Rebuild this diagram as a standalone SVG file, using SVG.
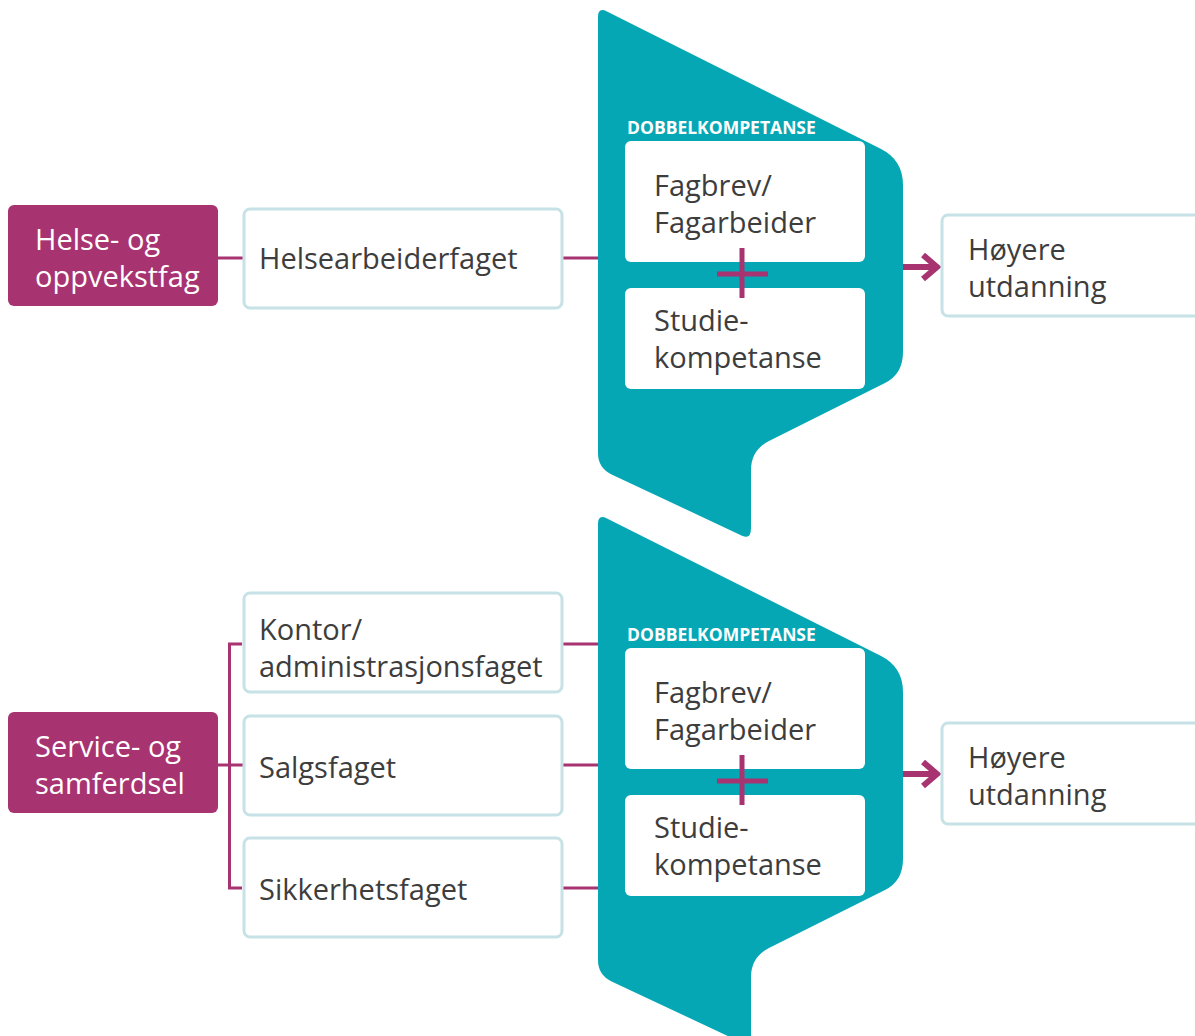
<svg xmlns="http://www.w3.org/2000/svg" width="1195" height="1036" viewBox="0 0 1195 1036">
<defs>
<style>
.teal{fill:#06A7B5}
.cat{fill:#A83371}
.box{fill:#fff;stroke:#C7E2E6;stroke-width:3}
.inner{fill:#fff}
.t{font-family:"Open Sans","Noto Sans",sans-serif;font-size:29px;fill:#3d3d3d}
.tw{font-family:"Open Sans","Noto Sans",sans-serif;font-size:29px;fill:#fff}
.hd{font-family:"Open Sans","Noto Sans",sans-serif;font-size:17.5px;font-weight:bold;fill:#fff}
.ln{stroke:#A83371;stroke-width:3;fill:none}
.plus{stroke:#A83371;stroke-width:5;fill:none}
.arr{stroke:#A83371;stroke-width:6;fill:none}
</style>
<path id="funnel" d="M598,17 Q598,7 607,11.5 L880.6,148.8 Q903,160 903,185 L903,352 Q903,374 885,383 L769,441 Q751,450 751,470 L751,528 Q751,540 742,535.7 L611.6,474.4 Q598,468 598,453 Z"/>
</defs>

<g id="connectors">
<line class="ln" x1="218" y1="258" x2="243" y2="258"/>
<line class="ln" x1="563" y1="258" x2="598" y2="258"/>
<path class="ln" d="M242,644 H229.5 V888 H242"/>
<line class="ln" x1="218" y1="765" x2="243" y2="765"/>
<line class="ln" x1="563" y1="644" x2="598" y2="644"/>
<line class="ln" x1="563" y1="765" x2="598" y2="765"/>
<line class="ln" x1="563" y1="888" x2="598" y2="888"/>
</g>

<g id="dk1">
<use href="#funnel" class="teal"/>
<text class="hd" x="627" y="134">DOBBELKOMPETANSE</text>
<rect class="inner" x="625" y="141" width="240" height="121" rx="6"/>
<text class="t" x="654" y="196">Fagbrev/</text>
<text class="t" x="654" y="233">Fagarbeider</text>
<rect class="inner" x="625" y="288" width="240" height="101" rx="6"/>
<text class="t" x="654" y="331">Studie-</text>
<text class="t" x="654" y="368">kompetanse</text>
<path class="plus" d="M717,274 H768 M742,248 V298"/>
<path class="arr" d="M903,267 H936 M923,255 L937,267 L923,279"/>
</g>

<g id="dk2" transform="translate(0,507)">
<use href="#funnel" class="teal"/>
<text class="hd" x="627" y="134">DOBBELKOMPETANSE</text>
<rect class="inner" x="625" y="141" width="240" height="121" rx="6"/>
<text class="t" x="654" y="196">Fagbrev/</text>
<text class="t" x="654" y="233">Fagarbeider</text>
<rect class="inner" x="625" y="288" width="240" height="101" rx="6"/>
<text class="t" x="654" y="331">Studie-</text>
<text class="t" x="654" y="368">kompetanse</text>
<path class="plus" d="M717,274 H768 M742,248 V298"/>
<path class="arr" d="M903,267 H936 M923,255 L937,267 L923,279"/>
</g>

<g id="helse">
<rect class="cat" x="8" y="205" width="210" height="101" rx="6"/>
<text class="tw" x="35" y="250">Helse- og</text>
<text class="tw" x="35" y="287">oppvekstfag</text>
</g>
<g id="helsearbeider">
<rect class="box" x="244" y="209" width="318" height="99" rx="6"/>
<text class="t" x="259" y="269">Helsearbeiderfaget</text>
</g>
<g id="hoyere1">
<rect class="box" x="942" y="215" width="270" height="101" rx="6"/>
<text class="t" x="968" y="260">Høyere</text>
<text class="t" x="968" y="297">utdanning</text>
</g>

<g id="service">
<rect class="cat" x="8" y="712" width="210" height="101" rx="6"/>
<text class="tw" x="35" y="757">Service- og</text>
<text class="tw" x="35" y="794">samferdsel</text>
</g>
<g id="kontor">
<rect class="box" x="244" y="593" width="318" height="99" rx="6"/>
<text class="t" x="259" y="640">Kontor/</text>
<text class="t" x="259" y="677">administrasjonsfaget</text>
</g>
<g id="salg">
<rect class="box" x="244" y="716" width="318" height="99" rx="6"/>
<text class="t" x="259" y="778">Salgsfaget</text>
</g>
<g id="sikkerhet">
<rect class="box" x="244" y="838" width="318" height="99" rx="6"/>
<text class="t" x="259" y="900">Sikkerhetsfaget</text>
</g>
<g id="hoyere2">
<rect class="box" x="942" y="723" width="270" height="101" rx="6"/>
<text class="t" x="968" y="768">Høyere</text>
<text class="t" x="968" y="805">utdanning</text>
</g>
</svg>
